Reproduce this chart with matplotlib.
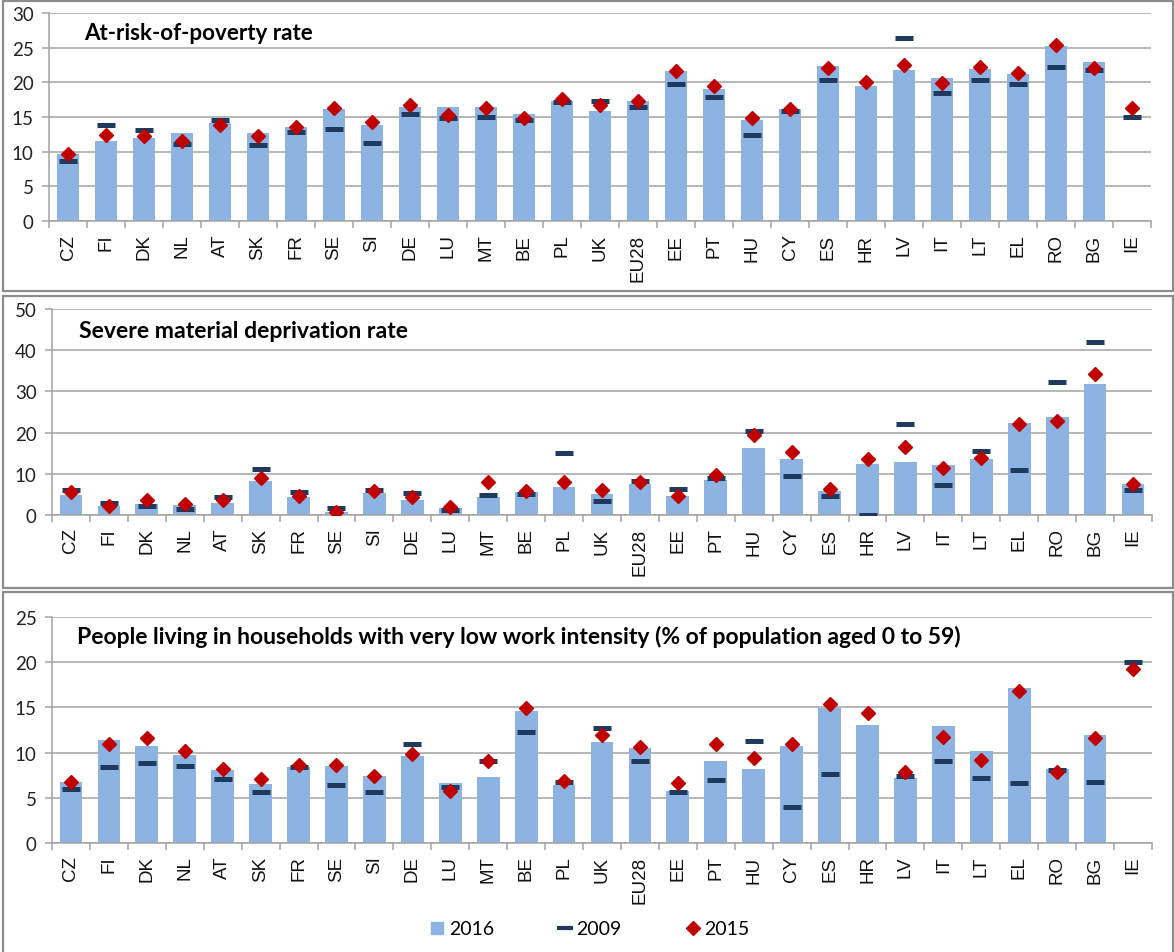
import numpy as np
import matplotlib
matplotlib.use("Agg")
import matplotlib.pyplot as plt
from matplotlib.lines import Line2D
from matplotlib.patches import Rectangle

nan = np.nan
countries = ['CZ', 'FI', 'DK', 'NL', 'AT', 'SK', 'FR', 'SE', 'SI', 'DE', 'LU', 'MT', 'BE', 'PL',
             'UK', 'EU28', 'EE', 'PT', 'HU', 'CY', 'ES', 'HR', 'LV', 'IT', 'LT', 'EL', 'RO', 'BG', 'IE']

# At-risk-of-poverty rate
arop_2016 = [9.7, 11.6, 11.9, 12.7, 14.1, 12.7, 13.6, 16.2, 13.9, 16.5, 16.5, 16.5, 15.5, 17.3,
             15.9, 17.3, 21.7, 19.0, 14.5, 16.1, 22.3, 19.5, 21.8, 20.6, 21.9, 21.2, 25.3, 22.9, nan]
arop_2009 = [8.6, 13.8, 13.1, 11.1, 14.5, 11.0, 12.9, 13.3, 11.3, 15.5, 14.9, 15.0, 14.6, 17.1,
             17.3, 16.4, 19.7, 17.9, 12.4, 15.8, 20.4, nan, 26.4, 18.4, 20.3, 19.7, 22.2, 21.8, 15.0]
arop_2015 = [9.7, 12.4, 12.2, 11.6, 13.9, 12.3, 13.6, 16.3, 14.3, 16.7, 15.3, 16.3, 14.9, 17.6,
             16.7, 17.3, 21.6, 19.5, 14.9, 16.2, 22.1, 20.0, 22.5, 19.9, 22.2, 21.4, 25.4, 22.0, 16.3]

# Severe material deprivation rate
smd_2016 = [4.8, 2.2, 2.6, 2.5, 3.0, 8.2, 4.4, 0.8, 5.4, 3.7, 1.6, 4.4, 5.5, 6.7,
            5.2, 7.5, 4.7, 8.4, 16.2, 13.6, 5.8, 12.5, 12.8, 12.1, 13.5, 22.4, 23.8, 31.9, 7.5]
smd_2009 = [6.1, 2.8, 2.3, 1.4, 4.4, 11.1, 5.6, 1.6, 6.1, 5.4, 1.1, 4.9, 5.2, 15.0,
            3.3, 8.2, 6.2, 9.0, 20.3, 9.5, 4.5, 0.0, 22.1, 7.3, 15.6, 11.0, 32.2, 41.9, 6.1]
smd_2015 = [5.6, 2.2, 3.7, 2.6, 3.6, 9.0, 4.5, 0.7, 5.8, 4.4, 2.0, 8.1, 5.8, 8.1,
            6.1, 8.1, 4.5, 9.6, 19.4, 15.4, 6.4, 13.7, 16.4, 11.5, 13.9, 22.2, 22.7, 34.2, 7.5]

# Very low work intensity
lwi_2016 = [6.7, 11.4, 10.7, 9.7, 8.1, 6.5, 8.4, 8.5, 7.4, 9.6, 6.6, 7.3, 14.6, 6.4,
            11.2, 10.5, 5.8, 9.1, 8.2, 10.7, 14.9, 13.0, 7.2, 12.9, 10.2, 17.2, 8.2, 11.9, nan]
lwi_2009 = [6.0, 8.4, 8.8, 8.5, 7.1, 5.6, 8.4, 6.4, 5.6, 10.9, 6.2, 9.1, 12.3, 6.8,
            12.7, 9.1, 5.6, 7.0, 11.3, 4.0, 7.6, nan, 7.4, 9.1, 7.2, 6.6, 8.1, 6.8, 20.0]
lwi_2015 = [6.8, 10.9, 11.6, 10.2, 8.2, 7.1, 8.6, 8.6, 7.4, 9.8, 5.7, 9.1, 14.9, 6.9,
            11.9, 10.6, 6.6, 10.9, 9.4, 10.9, 15.4, 14.4, 7.8, 11.7, 9.2, 16.8, 7.9, 11.6, 19.2]

titles = ["At-risk-of-poverty rate",
          "Severe material deprivation rate",
          "People living in households with very low work intensity (% of population aged 0 to 59)"]
y_max = [30, 50, 25]
y_step = [5, 10, 5]
series = [(arop_2016, arop_2009, arop_2015),
          (smd_2016, smd_2009, smd_2015),
          (lwi_2016, lwi_2009, lwi_2015)]
legend_labels = ['2016', '2009', '2015']

BAR = '#8DB3E2'
DASH = '#1F3A5F'
DIAM = '#C00000'
GRID = '#A3A3A3'
FRAME = '#8C8C8C'

W, H = 1174, 953
fig = plt.figure(figsize=(W / 100, H / 100), dpi=100)

# axes rectangles in pixels: left, right, top, bottom
boxes = [(49, 1151, 14, 222), (52, 1152, 310, 516), (52, 1152, 618, 844)]
title_px = [(84, 33, 230), (79, 332, 332), (77, 637, 890)]

# panel frames
for (y0, y1) in [(2, 292), (297, 589), (593, 960)]:
    fig.patches.append(Rectangle((3 / W, 1 - y1 / H), 1170 / W, (y1 - y0) / H,
                                 transform=fig.transFigure, fill=False,
                                 edgecolor=FRAME, lw=1.6, zorder=0))

x = np.arange(len(countries))
renderer = fig.canvas.get_renderer()
for i, (box, (v16, v09, v15)) in enumerate(zip(boxes, series)):
    l, r, t, b = box
    ax = fig.add_axes([l / W, 1 - b / H, (r - l) / W, (b - t) / H])
    ax.bar(x, v16, width=0.6, color=BAR, zorder=2)
    ax.plot(x, v09, ls='none', marker='_', ms=13, mew=3.6, color=DASH, zorder=3)
    ax.plot(x, v15, ls='none', marker='D', ms=7.5, color=DIAM, mec=DIAM, zorder=4)
    ax.set_xlim(-0.5, len(countries) - 0.5)
    ax.set_ylim(0, y_max[i])
    ax.set_yticks(np.arange(0, y_max[i] + 0.1, y_step[i]))
    ax.yaxis.grid(True, color=GRID, lw=1.1, zorder=0)
    ax.set_axisbelow(True)
    for s in ['top', 'right']:
        ax.spines[s].set_visible(False)
    for s in ['left', 'bottom']:
        ax.spines[s].set_color(GRID)
        ax.spines[s].set_linewidth(1.1)
    ax.set_xticks(x)
    ax.set_xticklabels(countries, rotation=90, fontsize=13.5, family='Liberation Sans',
                       color='#111111')
    ax.set_xticks(np.arange(-0.5, len(countries)), minor=True)
    ax.tick_params(axis='x', which='major', length=0, pad=9)
    ax.tick_params(axis='x', which='minor', length=5, color=GRID, width=1.1)
    ax.tick_params(axis='y', length=5, color=GRID, width=1.1, pad=6)
    for lab in ax.get_yticklabels():
        lab.set_fontfamily('Lato')
        lab.set_fontsize(13.5)
        lab.set_color('#222222')
    tx, ty, tw = title_px[i]
    txt = fig.text(tx / W, 1 - ty / H, titles[i], fontsize=14, fontweight='bold',
                   family='Lato', va='center', ha='left')
    ext = txt.get_window_extent(renderer=renderer)
    txt.set_fontsize(14 * tw / ext.width)

handles = [Line2D([], [], ls='none', marker='s', ms=8, color=BAR),
           Line2D([], [], ls='none', marker='_', ms=11, mew=3, color=DASH),
           Line2D([], [], ls='none', marker='D', ms=7, color=DIAM)]
fig.legend(handles, legend_labels, loc='center', bbox_to_anchor=(590 / W, 1 - 930 / H),
           ncol=3, frameon=False, prop={'family': 'Lato', 'size': 14},
           handlelength=0.7, handletextpad=0.25, columnspacing=3.3)

fig.savefig('out.png', dpi=100)
